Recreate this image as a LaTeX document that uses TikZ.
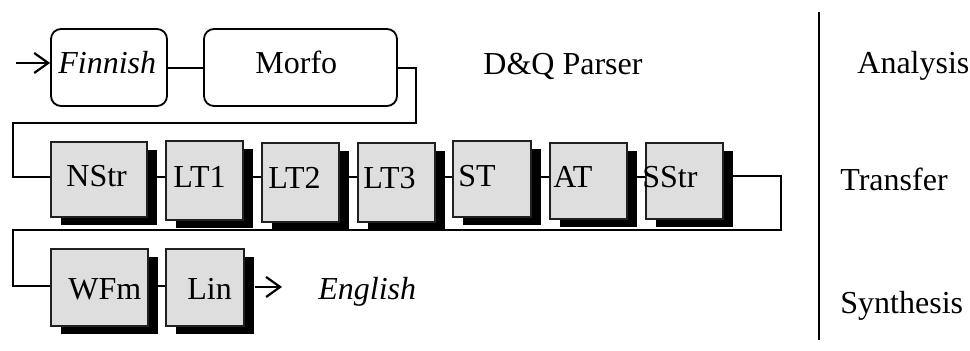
\documentclass[tikz,border=0pt]{standalone}
\usepackage{fontspec}
\setmainfont{Liberation Serif}
\usetikzlibrary{shadows,arrows.meta,backgrounds,calc}
\definecolor{boxgray}{HTML}{DEDEDE}
\definecolor{edgegray}{HTML}{202020}
\begin{document}
\begin{tikzpicture}[x=0.5pt,y=-0.5pt,
  every node/.style={font=\fontsize{16}{19}\selectfont},
  conn/.style={line width=0.8pt,line cap=rect},
  arr/.style={line width=0.9pt,-{Straight Barb[length=7pt,width=10pt,line width=1.1pt]}},
  rbox/.style={draw,line width=0.9pt,rounded corners=5pt,minimum height=38.5pt,inner sep=0pt},
  stage/.style={draw=edgegray,fill=boxgray,line width=0.6pt,inner sep=0pt,
    general shadow={fill=black,shadow xshift=5pt,shadow yshift=-4pt}},
  lab/.style={anchor=base west,inner sep=0pt}]
\useasboundingbox (0,0) rectangle (970,351);
% row 1
\node[rbox,minimum width=58pt] (fin) at (109,67.5) {};
\node[rbox,minimum width=96.5pt] (morfo) at (300.5,67.5) {};
% row 2
\node[stage,minimum width=48pt,minimum height=37.5pt] (nstr) at (99,179.5) {};
\node[stage,minimum width=38.5pt,minimum height=39.5pt] (lt1) at (204.5,180.5) {};
\node[stage,minimum width=38.5pt,minimum height=39.5pt] (lt2) at (300.5,182.5) {};
\node[stage,minimum width=38.5pt,minimum height=39.5pt] (lt3) at (396.5,182.5) {};
\node[stage,minimum width=39pt,minimum height=38pt] (st) at (492,179) {};
\node[stage,minimum width=38.5pt,minimum height=38pt] (at) at (588.5,181) {};
\node[stage,minimum width=38.5pt,minimum height=38pt] (sstr) at (684.5,181) {};
% row 3
\node[stage,minimum width=48.5pt,minimum height=38.5pt] (wfm) at (99.5,287.5) {};
\node[stage,minimum width=39pt,minimum height=38.5pt] (lin) at (205,287.5) {};
% labels
\node[lab] (tfin) at (58,74) {\itshape Finnish};
\node[lab] (tmorfo) at (255,74) {Morfo};
\node[lab] (tdq) at (483,75) {D\&Q Parser};
\node[lab] (tana) at (857,74) {Analysis};
\node[lab] (tnstr) at (66,187) {NStr};
\node[lab] (tlt1) at (173,188) {LT1};
\node[lab] (tlt2) at (268,189) {LT2};
\node[lab] (tlt3) at (363,189) {LT3};
\node[lab] (tst) at (458,187) {ST};
\node[lab] (tat) at (553,188) {AT};
\node[lab] (tsstr) at (642,188) {SStr};
\node[lab] (ttra) at (840,191) {Transfer};
\node[lab] (twfm) at (68,300) {WFm};
\node[lab] (tlin) at (187,300) {Lin};
\node[lab] (teng) at (318,300) {\itshape English};
\node[lab] (tsyn) at (840,314) {Synthesis};
% coordinates
\coordinate (in) at (16,63);
\coordinate (r1) at (0,68);
\coordinate (t1) at (416,123);
\coordinate (r2) at (0,177);
\coordinate (t2) at (781,230);
\coordinate (r3) at (0,286);
\coordinate (left) at (13,0);
\coordinate (out) at (282,287);
\coordinate (vtop) at (819,12);
\coordinate (vbot) at (819,340);
\begin{scope}[on background layer]
\draw[conn] (fin.east |- r1) -- (morfo.west |- r1);
\draw[conn] (morfo.east |- r1) -| (t1) -| (left |- r2) -- (nstr.west |- r2);
\draw[conn] (nstr.east |- r2) -- (lt1.west |- r2);
\draw[conn] (lt1.east |- r2) -- (lt2.west |- r2);
\draw[conn] (lt2.east |- r2) -- (lt3.west |- r2);
\draw[conn] (lt3.east |- r2) -- (st.west |- r2);
\draw[conn] (st.east |- r2) -- (at.west |- r2);
\draw[conn] (at.east |- r2) -- (sstr.west |- r2);
\draw[conn] (sstr.east |- 0,176) -| (t2) -| (left |- r3) -- (wfm.west |- r3);
\draw[conn] (wfm.east |- r3) -- (lin.west |- r3);
\end{scope}
\draw[arr] (in) -- (in -| fin.west);
\draw[arr] (lin.east |- out) ++(5pt,0) -- (out);
\draw[conn,line cap=butt] (vtop) -- (vbot);
\end{tikzpicture}
\end{document}
